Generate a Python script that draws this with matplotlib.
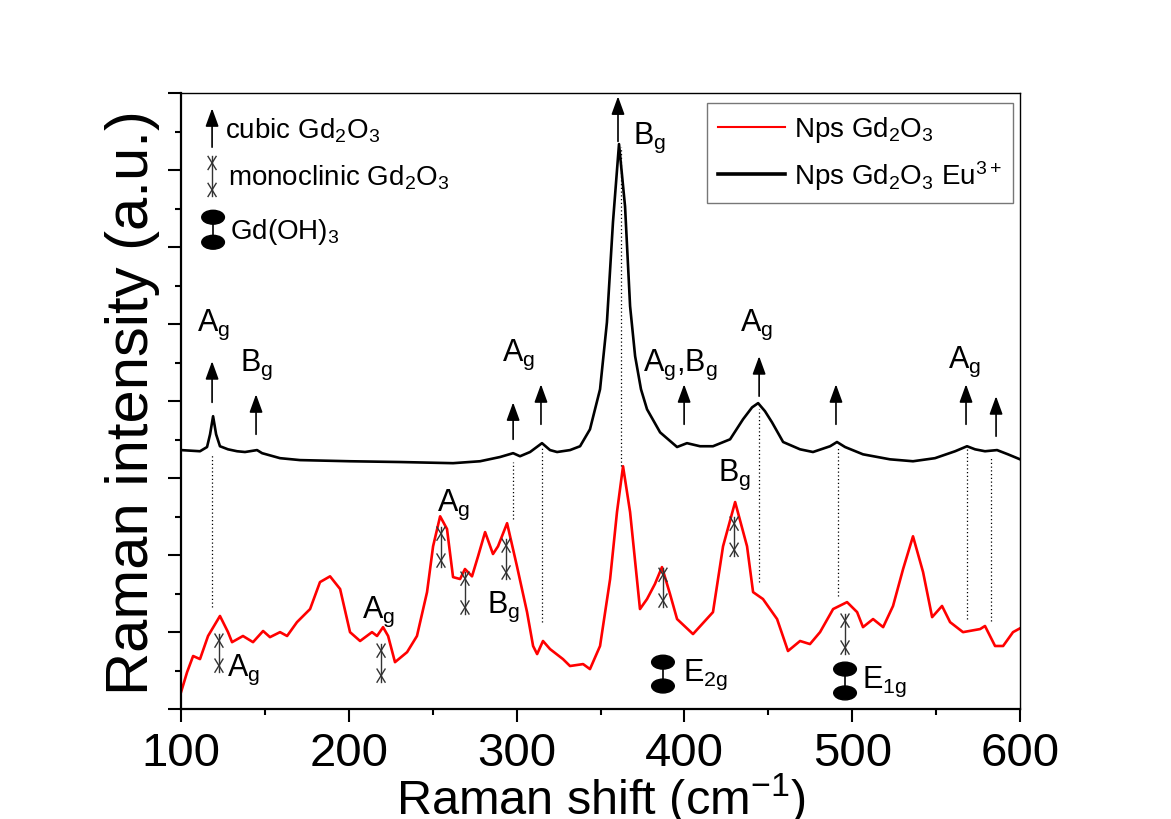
import matplotlib
matplotlib.use("Agg")
import matplotlib.pyplot as plt
from matplotlib.patches import Ellipse
from matplotlib.ticker import MultipleLocator, NullFormatter

plt.rcParams['font.family'] = ['Liberation Sans', 'DejaVu Sans']
plt.rcParams['mathtext.fontset'] = 'custom'
plt.rcParams['mathtext.rm'] = 'Liberation Sans'
plt.rcParams['mathtext.it'] = 'Liberation Sans:italic'
plt.rcParams['mathtext.default'] = 'regular'

# ---------------- espectros (cm-1, intensidade em u.a.) ----------------
shift_eu = [100, 111.3, 115.5, 117.3, 119.1, 120.9, 123.2, 128.0, 133.4, 138.1,
            145.3, 148.3, 159.0, 170.9, 200.7, 230.5, 262.1, 278.2, 290.1, 297.9,
            302.0, 308.0, 315.1, 319.9, 324.1, 331.8, 337.8, 343.7, 349.7, 353.8,
            357.4, 361.0, 364.6, 367.6, 370.6, 374.1, 377.7,
            385.5, 395.6, 401.5, 409.3, 417.0, 427.2, 434.9, 440.3, 443.9, 448.0,
            452.2, 458.8, 468.9, 476.6, 486.8, 490.9, 495.7, 506.4, 522.5, 536.2,
            549.3, 561.3, 568.4, 573.2, 579.1, 586.3, 592.8, 600.0]
int_eu = [6.73, 6.70, 6.81, 7.14, 7.61, 7.14, 6.83, 6.75, 6.70, 6.68,
          6.73, 6.65, 6.52, 6.47, 6.44, 6.42, 6.39, 6.44, 6.55, 6.65,
          6.57, 6.68, 6.91, 6.73, 6.68, 6.73, 6.83, 7.27, 8.31, 10.05,
          12.65, 14.68, 13.06, 10.47, 9.17, 8.31, 7.79,
          7.19, 6.81, 6.91, 6.83, 6.83, 7.01, 7.53, 7.84, 7.95, 7.74,
          7.45, 6.94, 6.75, 6.68, 6.83, 6.94, 6.81, 6.62, 6.49, 6.44,
          6.52, 6.70, 6.83, 6.75, 6.70, 6.73, 6.62, 6.49]

shift_np = [100.0, 103.6, 107.2, 111.3, 116.1, 123.2, 128.0, 130.4, 136.9, 142.9,
            148.9, 153.0, 159.0, 163.2, 169.1, 176.9, 182.8, 188.8, 194.8, 200.7,
            206.7, 213.8, 216.8, 220.4, 223.4, 227.5, 234.7, 240.6, 246.6, 250.2,
            254.4, 258.5, 262.1, 266.3, 269.2, 273.4, 277.0, 281.2, 285.9, 288.9,
            294.3, 300.2, 306.2, 309.8, 312.2, 315.7, 319.9, 327.6, 331.8, 339.6,
            343.7, 349.7, 355.7, 359.8, 363.4, 367.6, 373.5, 377.7, 382.4, 386.6,
            391.4, 395.6, 405.1, 417.0, 423.0, 430.2, 437.3, 440.9, 446.8, 455.2,
            461.7, 468.9, 474.8, 480.8, 488.6, 496.9, 502.9, 506.4, 512.4, 518.4,
            524.3, 530.3, 536.2, 542.2, 547.6, 553.5, 558.3, 566.0, 576.2, 579.1,
            585.1, 589.9, 595.8, 600.0]
int_np = [0.44, 0.96, 1.38, 1.30, 1.90, 2.42, 2.00, 1.74, 1.90, 1.74,
          2.03, 1.87, 2.00, 1.90, 2.26, 2.60, 3.30, 3.45, 3.12, 2.00,
          1.77, 2.00, 1.90, 2.13, 1.90, 1.22, 1.48, 1.90, 3.04, 4.23,
          5.01, 4.68, 3.43, 3.38, 3.64, 3.45, 3.97, 4.60, 4.03, 4.23,
          4.83, 3.71, 2.52, 1.64, 1.43, 1.77, 1.56, 1.30, 1.12, 1.17,
          1.04, 1.64, 3.38, 5.12, 6.31, 5.12, 2.60, 2.86, 3.25, 3.69,
          2.99, 2.34, 1.95, 2.52, 4.23, 5.38, 4.23, 3.04, 2.86, 2.34,
          1.51, 1.77, 1.69, 2.00, 2.60, 2.78, 2.52, 2.13, 2.34, 2.13,
          2.68, 3.64, 4.49, 3.56, 2.39, 2.68, 2.26, 2.00, 2.08, 2.16,
          1.64, 1.64, 2.00, 2.10]

# ---------------- marcações de modos ----------------
# Gd2O3 cúbico: posição, base e topo da seta
cub_pos = [118.5, 144.7, 297.9, 314.5, 360.4, 399.8, 444.5, 490.3, 567.8, 585.7]
cub_low = [7.97, 7.14, 7.01, 7.40, 14.75, 7.40, 8.13, 7.40, 7.40, 7.09]
cub_high = [9.04, 8.18, 7.97, 8.44, 15.92, 8.44, 9.17, 8.44, 8.44, 8.13]

# Gd2O3 monoclínico: posição, base e topo do símbolo
mono_pos = [122.6, 219.2, 254.9, 269.2, 293.7, 387.2, 429.6, 495.7]
mono_low = [0.96, 0.70, 3.69, 2.47, 3.38, 2.65, 3.97, 1.43]
mono_high = [1.95, 1.69, 4.73, 3.56, 4.42, 3.66, 4.99, 2.47]

# Gd(OH)3: posição e altura das duas elipses
hid_pos = [387.2, 495.7]
hid_low = [0.60, 0.42]
hid_high = [1.22, 1.04]

# linhas pontilhadas ligando os picos
dot_pos = [118.5, 297.9, 315.1, 362.3, 444.5, 491.5, 568.4, 582.9]
dot_low = [2.65, 4.94, 2.26, 6.31, 3.30, 2.94, 2.34, 2.29]
dot_high = [6.62, 6.42, 6.83, 14.60, 7.79, 6.83, 6.75, 6.57]

# rótulos dos modos (texto, x, y)
modos = [
    ("A$_g$", 109.5, 10.0), ("B$_g$", 135.2, 8.96), ("A$_g$", 291.3, 9.22),
    ("B$_g$", 369.4, 14.86), ("A$_g$,B$_g$", 375.3, 8.96), ("A$_g$", 433.1, 10.0),
    ("A$_g$", 557.1, 9.04),
    ("A$_g$", 127.4, 1.04), ("A$_g$", 207.9, 2.55), ("A$_g$", 252.6, 5.32),
    ("B$_g$", 282.4, 2.68), ("B$_g$", 420.0, 6.10),
    ("E$_{2g}$", 399.2, 0.91), ("E$_{1g}$", 505.8, 0.73),
]

fig = plt.figure(figsize=(11.71, 8.20), dpi=100)
ax = fig.add_axes([0.1546, 0.134, 0.7165, 0.751])


def seta(x, y0, y1):
    ax.annotate('', xy=(x, y1), xytext=(x, y0),
                arrowprops=dict(arrowstyle='-|>,head_length=0.55,head_width=0.2',
                                color='black', lw=1.2, shrinkA=0, shrinkB=0,
                                mutation_scale=20))


def mono(x, y0, y1):
    dx, dy = 2.4, 0.17
    ax.plot([x, x], [y0, y1], color='#333333', lw=1.0)
    for yc in (y0 + dy, y1 - dy):
        ax.plot([x - dx, x + dx], [yc - dy, yc + dy], color='#333333', lw=1.0)
        ax.plot([x - dx, x + dx], [yc + dy, yc - dy], color='#333333', lw=1.0)


def hidroxido(x, y0, y1):
    ax.plot([x, x], [y0, y1], color='black', lw=1.2)
    for yc in (y0, y1):
        ax.add_patch(Ellipse((x, yc), 13.5, 0.36, color='black'))


ax.plot(shift_np, int_np, color='#ff0000', lw=1.9, label='Nps Gd$_2$O$_3$')
ax.plot(shift_eu, int_eu, color='black', lw=1.9, label='Nps Gd$_2$O$_3$ Eu$^{3+}$')

for x, a, b in zip(dot_pos, dot_low, dot_high):
    ax.plot([x, x], [a, b], color='black', lw=0.9, ls=(0, (1, 2)))
for x, a, b in zip(cub_pos, cub_low, cub_high):
    seta(x, a, b)
for x, a, b in zip(mono_pos, mono_low, mono_high):
    mono(x, a, b)
for x, a, b in zip(hid_pos, hid_low, hid_high):
    hidroxido(x, a, b)
for txt, x, y in modos:
    ax.text(x, y, txt, fontsize=22, va='center', ha='left')

# chave de símbolos no canto superior esquerdo
seta(118.5, 14.6, 15.61)
ax.text(126.2, 15.06, "cubic Gd$_2$O$_3$", fontsize=20, va='center')
mono(118.5, 13.32, 14.36)
ax.text(128.0, 13.82, "monoclinic Gd$_2$O$_3$", fontsize=20, va='center')
hidroxido(119.1, 12.13, 12.78)
ax.text(129.2, 12.42, "Gd(OH)$_3$", fontsize=20, va='center')

leg = ax.legend(loc='upper right', bbox_to_anchor=(0.992, 0.984), borderaxespad=0,
                fontsize=20, frameon=True, fancybox=False, handlelength=2.4,
                handletextpad=0.35, borderpad=0.4, labelspacing=0.5)
leg.get_frame().set_edgecolor('#555555')
leg.get_frame().set_linewidth(1.0)
leg.get_lines()[0].set_linewidth(1.5)
leg.get_lines()[1].set_linewidth(2.6)

ax.set_xlim(100, 600)
ax.set_ylim(0, 16)
ax.xaxis.set_major_locator(MultipleLocator(100))
ax.xaxis.set_minor_locator(MultipleLocator(50))
ax.yaxis.set_major_locator(MultipleLocator(2))
ax.yaxis.set_minor_locator(MultipleLocator(1))
ax.yaxis.set_major_formatter(NullFormatter())
ax.tick_params(which='both', direction='out', top=False, right=False, width=1.5)
ax.tick_params(which='major', length=9.5)
ax.tick_params(which='minor', length=4.5)
ax.tick_params(axis='x', labelsize=34, pad=6)
for side in ('left', 'bottom'):
    ax.spines[side].set_linewidth(1.6)
for side in ('top', 'right'):
    ax.spines[side].set_linewidth(1.0)

ax.set_xlabel("Raman shift (cm$^{-1}$)", fontsize=35, labelpad=-3)
ax.set_ylabel("Raman intensity (a.u.)", fontsize=43, labelpad=2)

fig.savefig("out.png", dpi=100)
